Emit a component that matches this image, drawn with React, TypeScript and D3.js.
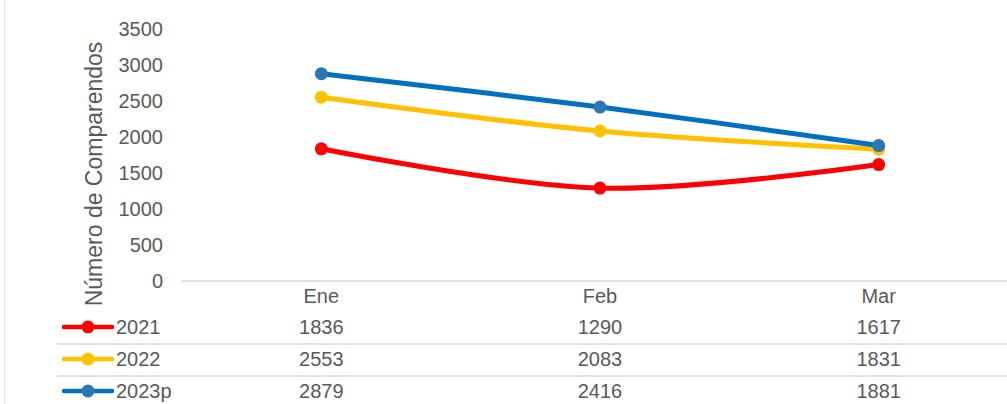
import React from "react";
import * as d3 from "d3";

const categories = ["Ene", "Feb", "Mar"];
const seriesNames = ["2021", "2022", "2023p"];
const values2021 = [1836, 1290, 1617];
const values2022 = [2553, 2083, 1831];
const values2023p = [2879, 2416, 1881];
const yTicks = [0, 500, 1000, 1500, 2000, 2500, 3000, 3500];
const lineColors = ["#FF0000", "#FFC000", "#0070C0"];
const markerColors = ["#FF0000", "#FFC000", "#2E75B6"];

const W = 1007;
const H = 404;

export default function App() {
  const allSeries = [values2021, values2022, values2023p];
  const x = d3.scaleBand<string>().domain(categories).range([182, 1018]).padding(0);
  const y = d3.scaleLinear().domain([0, 3500]).range([281, 29]);
  const cx = (c: string) => (x(c) ?? 0) + x.bandwidth() / 2;
  const line = d3
    .line<number>()
    .x((_, i) => cx(categories[i]))
    .y((d) => y(d))
    .curve(d3.curveCatmullRom.alpha(0.5));
  const font = "'Liberation Sans', Arial, sans-serif";
  const textColor = "#595959";
  const fs = 20;
  const rowY = [327, 359, 391];
  const rowSep = [344, 376];
  return (
    <svg
      width={W}
      height={H}
      style={{ position: "absolute", left: 0, top: 0, background: "#fff" }}
      fontFamily={font}
    >
      <line x1={4.5} x2={4.5} y1={0} y2={H} stroke="#E6E6E6" strokeWidth={1} />
      {yTicks.map((t) => (
        <text
          key={t}
          x={163}
          y={y(t)}
          dy="0.35em"
          textAnchor="end"
          fontSize={fs}
          fill={textColor}
        >
          {t}
        </text>
      ))}
      <text
        transform={`translate(102,174) rotate(-90)`}
        textAnchor="middle"
        fontSize={23}
        fill={textColor}
      >
        Número de Comparendos
      </text>
      <line x1={182} x2={W} y1={y(0)} y2={y(0)} stroke="#D9D9D9" strokeWidth={1.5} />
      {categories.map((c) => (
        <text key={c} x={cx(c)} y={296} dy="0.35em" textAnchor="middle" fontSize={fs} fill={textColor}>
          {c}
        </text>
      ))}
      {rowSep.map((r) => (
        <line key={r} x1={57} x2={W} y1={r} y2={r} stroke="#D9D9D9" strokeWidth={1.5} />
      ))}
      {allSeries.map((vals, si) => (
        <g key={si}>
          <line x1={64} x2={112} y1={rowY[si]} y2={rowY[si]} stroke={lineColors[si]} strokeWidth={4.5} strokeLinecap="round" />
          <circle cx={88} cy={rowY[si]} r={6.5} fill={markerColors[si]} />
          <text x={116} y={rowY[si]} dy="0.35em" fontSize={fs} fill={textColor}>
            {seriesNames[si]}
          </text>
          {vals.map((v, i) => (
            <text key={i} x={cx(categories[i])} y={rowY[si]} dy="0.35em" textAnchor="middle" fontSize={fs} fill={textColor}>
              {v}
            </text>
          ))}
        </g>
      ))}
      {allSeries.map((vals, si) => (
        <g key={"s" + si}>
          <path d={line(vals) ?? ""} fill="none" stroke={lineColors[si]} strokeWidth={5} strokeLinecap="round" />
          {vals.map((v, i) => (
            <circle key={i} cx={cx(categories[i])} cy={y(v)} r={6.5} fill={markerColors[si]} />
          ))}
        </g>
      ))}
    </svg>
  );
}
